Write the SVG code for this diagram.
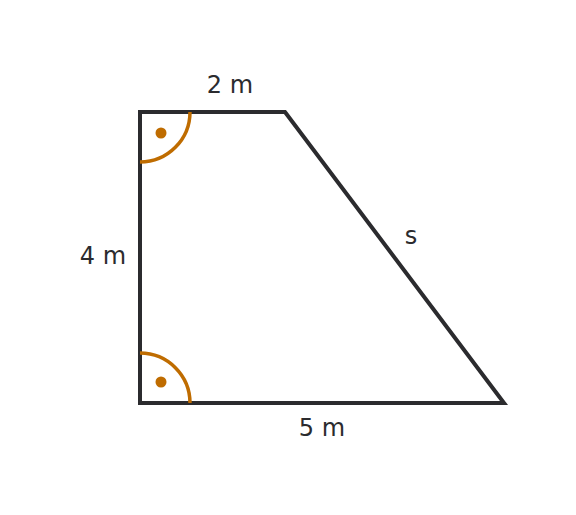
<svg xmlns="http://www.w3.org/2000/svg" width="576" height="515" viewBox="0 0 576 515">
<style>
.edge{fill:none;stroke:#2b2b2e;stroke-width:4;stroke-linejoin:miter;stroke-linecap:square}
.arc{fill:none;stroke:#bf6c00;stroke-width:3.5}
.dot{fill:#bf6c00}
.lbl{font-family:"DejaVu Sans",sans-serif;font-size:24px;fill:#2b2b2e;text-anchor:middle}
</style>
<rect width="576" height="515" fill="#ffffff"/>
<g id="connectors">
<polygon class="edge" points="140,112 285,112 504,403 140,403"/>
</g>
<g id="angle-top">
<path class="arc" d="M190,112 A50,50 0 0 1 140,162"/>
<circle class="dot" cx="161" cy="133" r="5.5"/>
</g>
<g id="angle-bottom">
<path class="arc" d="M140,353 A50,50 0 0 1 190,403"/>
<circle class="dot" cx="161" cy="382" r="5.5"/>
</g>
<g id="labels">
<text class="lbl" x="230" y="93">2 m</text>
<text class="lbl" x="103" y="264">4 m</text>
<text class="lbl" x="322" y="436">5 m</text>
<text class="lbl" x="411" y="244">s</text>
</g>
</svg>
